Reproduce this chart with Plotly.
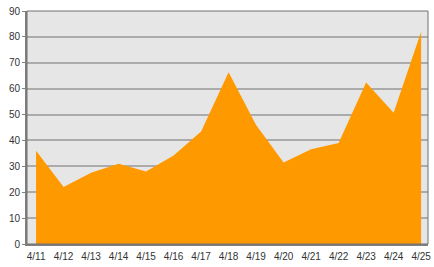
import plotly.graph_objects as go

dates = ["4/11", "4/12", "4/13", "4/14", "4/15", "4/16", "4/17", "4/18",
         "4/19", "4/20", "4/21", "4/22", "4/23", "4/24", "4/25"]
values = [36, 22, 27.5, 31, 28, 34.2, 43.5, 66.3, 46, 31.5, 36.6, 39, 62.4, 50.7, 82]
y_ticks = list(range(0, 91, 10))

fig = go.Figure()
fig.add_trace(go.Scatter(
    x=dates, y=values, mode="lines", fill="tozeroy",
    line=dict(width=0, color="#FF9900"), fillcolor="#FF9900",
    hoverinfo="skip", showlegend=False,
))

fig.update_layout(
    width=434, height=267,
    margin=dict(l=27, r=6, t=11, b=23, autoexpand=False),
    paper_bgcolor="white", plot_bgcolor="#E6E6E6",
    font=dict(family="Liberation Sans, Arial, sans-serif", size=10, color="#333333"),
    xaxis=dict(
        type="category", range=[-0.33, 14.25], automargin=False,
        showgrid=False, showline=True, linecolor="#808080", linewidth=2,
        ticks="", ticklen=0, ticklabelstandoff=2, tickfont=dict(size=10, color="#333333"),
        fixedrange=True,
    ),
    yaxis=dict(
        range=[0, 90], tickvals=y_ticks, automargin=False,
        showgrid=True, gridcolor="#ABABAB", gridwidth=2,
        zeroline=False, showline=True, linecolor="#808080", linewidth=2,
        ticks="outside", ticklen=3, tickcolor="#808080", tickwidth=1,
        tickfont=dict(size=10, color="#333333"), fixedrange=True,
    ),
    shapes=[dict(type="rect", xref="paper", yref="paper", x0=0, y0=0, x1=1, y1=1,
                 line=dict(color="#707070", width=1), layer="above")],
)

fig.write_html("out.html")
